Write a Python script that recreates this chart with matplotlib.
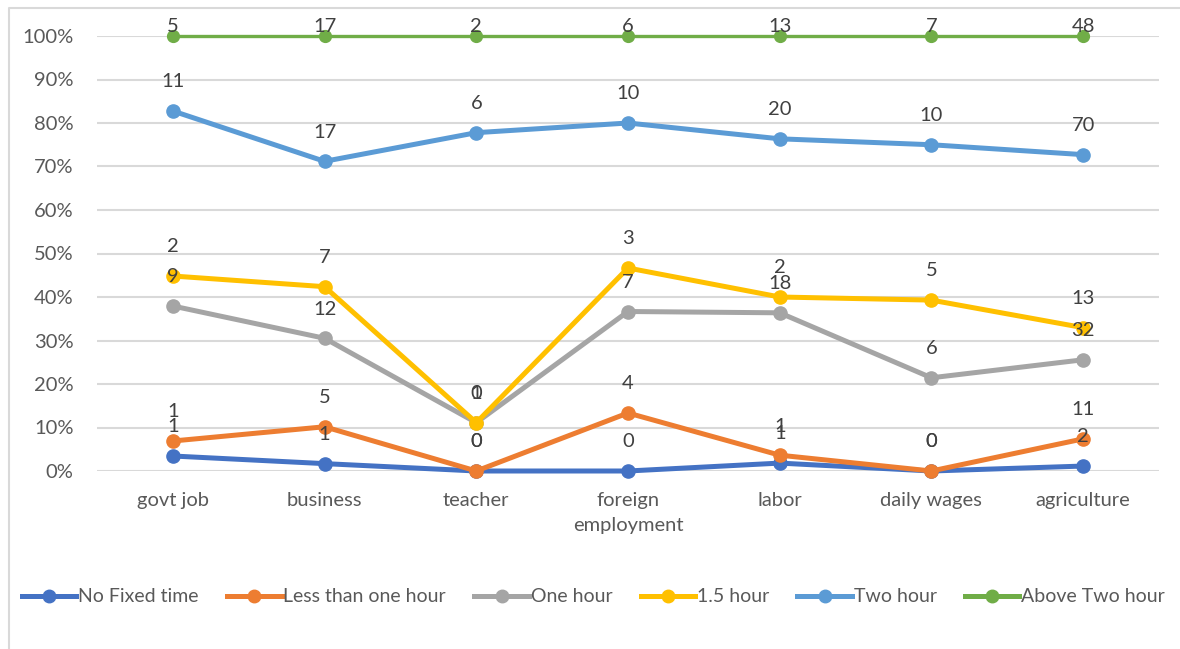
import matplotlib.pyplot as plt
import numpy as np
from matplotlib.lines import Line2D

plt.rcParams['font.family'] = ['Lato', 'DejaVu Sans']

categories = ['govt job', 'business', 'teacher', 'foreign\nemployment',
              'labor', 'daily wages', 'agriculture']
series_names = ['No Fixed time', 'Less than one hour', 'One hour',
                '1.5 hour', 'Two hour', 'Above Two hour']

# respondent counts per occupation
no_fixed = [1, 1, 0, 0, 1, 0, 2]
less_one = [1, 5, 0, 4, 1, 0, 11]
one_hour = [9, 12, 1, 7, 18, 6, 32]
one_half = [2, 7, 0, 3, 2, 5, 13]
two_hour = [11, 17, 6, 10, 20, 10, 70]
above_two = [5, 17, 2, 6, 13, 7, 48]

colors = ['#4472C4', '#ED7D31', '#A5A5A5', '#FFC000', '#5B9BD5', '#70AD47']

counts = np.array([no_fixed, less_one, one_hour, one_half, two_hour, above_two])
cum_pct = np.cumsum(counts, axis=0) / counts.sum(axis=0)

W, H = 1180, 649
fig = plt.figure(figsize=(W / 100, H / 100), dpi=100)
ax = fig.add_axes([97 / W, (H - 471) / H, (1159 - 97) / W, (471 - 36) / H])

x = np.arange(len(categories))
for i, name in enumerate(series_names):
    lw, ms = (2.4, 8.5) if i == 5 else (3.6, 9.5)
    ax.plot(x, cum_pct[i], color=colors[i], lw=lw, marker='o', ms=ms,
            label=name, solid_capstyle='round', zorder=3 + i, clip_on=False)

# count labels above each point
for i in range(len(series_names)):
    off = 7 if i == 5 else 21
    for j in range(len(categories)):
        ax.annotate(str(counts[i, j]), (x[j], cum_pct[i, j]),
                    xytext=(0, off), textcoords='offset points',
                    ha='center', va='center', fontsize=14.5, color='#404040',
                    zorder=20, annotation_clip=False)

ax.set_xlim(-0.5, len(categories) - 0.5)
ax.set_ylim(0, 1)
ax.set_yticks(np.arange(0, 1.01, 0.1))
ax.set_yticklabels([f'{int(round(v * 100))}%' for v in np.arange(0, 1.01, 0.1)])
ax.set_xticks(x)
ax.set_xticklabels(categories, linespacing=1.6)
ax.tick_params(length=0, labelsize=14.5, labelcolor='#595959')
ax.tick_params(axis='y', pad=17)
ax.tick_params(axis='x', pad=15)
ax.grid(axis='y', color='#d9d9d9', lw=1.5)
ax.set_axisbelow(True)
for s in ax.spines.values():
    s.set_visible(False)

handles = [Line2D([0], [0], color=c, lw=3.6, marker='o', ms=9) for c in colors]
fig.legend(handles, series_names, loc='center', bbox_to_anchor=(0.503, 1 - 597 / H),
           ncol=6, frameon=False, fontsize=14, handlelength=2.8,
           handletextpad=0.1, columnspacing=1.45, labelcolor='#595959')

# outer border of the chart area
fig.add_artist(Line2D([9 / W, 9 / W, 1.0], [0, 1 - 8 / H, 1 - 8 / H],
                      transform=fig.transFigure, color='#d9d9d9', lw=1.5))

fig.savefig('out.png', dpi=100)
